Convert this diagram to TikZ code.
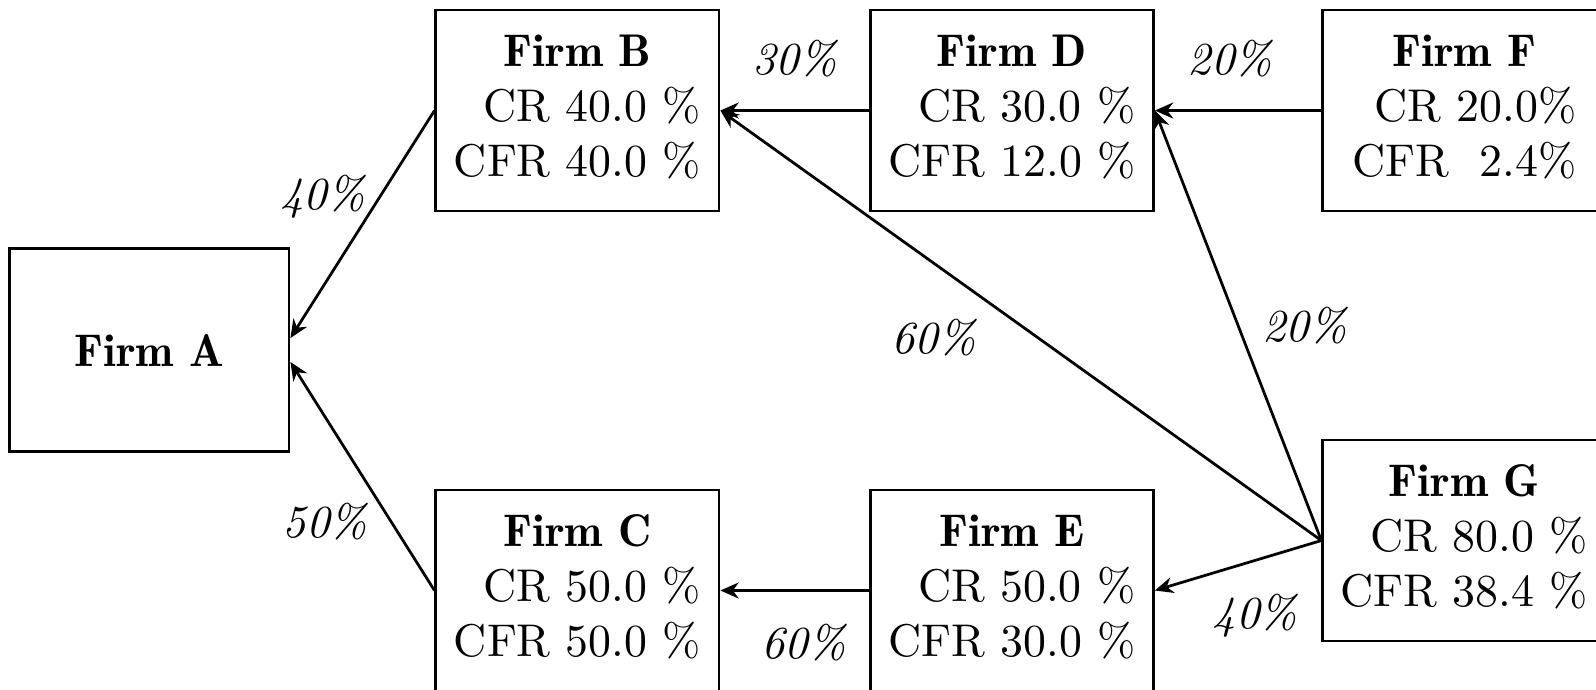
\documentclass[tikz,border=0pt]{standalone}
\usepackage{tikz}
\usetikzlibrary{positioning, arrows.meta}

\newcommand{\firmname}[1]{{\fontseries{b}\selectfont #1}}
\newcommand{\firmtext}[3]{%
  \begin{tabular}{@{}r@{}}
    \multicolumn{1}{@{}c@{}}{\firmname{Firm #1}}\\
    CR #2\\
    CFR #3
  \end{tabular}}

\tikzset{
  firm/.style={draw, semithick, minimum width=2.17cm, minimum height=1.54cm, inner sep=0pt},
  flow/.style={semithick, -{Stealth[length=4pt, width=3.5pt]}},
  share/.style={font=\itshape, inner sep=3pt}
}

\begin{document}
\begin{tikzpicture}
  \useasboundingbox (0,0) rectangle (12.23,5.287);

  % Firms
  \node[firm, minimum width=2.14cm, minimum height=1.56cm] (A) at (1.145,2.605) {\firmname{Firm A}};
  \node[firm] (B) at (4.425,4.44) {\firmtext{B}{40.0 \%}{40.0 \%}};
  \node[firm] (D) at (7.754,4.44) {\firmtext{D}{30.0 \%}{12.0 \%}};
  \node[firm] (F) at (11.221,4.44) {\firmtext{F}{20.0\%}{~2.4\%}};
  \node[firm] (C) at (4.425,0.762) {\firmtext{C}{50.0 \%}{50.0 \%}};
  \node[firm] (E) at (7.754,0.762) {\firmtext{E}{50.0 \%}{30.0 \%}};
  \node[firm] (G) at (11.221,1.145) {\firmtext{G}{80.0 \%}{38.4 \%}};

  % Shares
  \draw[flow] (B.west) -- node[share, pos=.38, left] {40\%} ([yshift=2.6pt]A.east);
  \draw[flow] (C.west) -- node[share, pos=.3, left=2pt] {50\%} ([yshift=-2.6pt]A.east);
  \draw[flow] (D.west) -- node[share, above=4pt] {30\%} (B.east);
  \draw[flow] (F.west) -- node[share, pos=.55, above=4pt] {20\%} (D.east);
  \draw[flow] (E.west) -- node[share, pos=.44, below=4pt] {60\%} (C.east);
  \draw[flow] (G.west) -- node[share, pos=.55, below left] {60\%} (B.east);
  \draw[flow] (G.west) -- node[share, pos=.5, right=2pt] {20\%} (D.east);
  \draw[flow] (G.west) -- node[share, pos=.4, below=4pt] {40\%} (E.east);
\end{tikzpicture}
\end{document}
